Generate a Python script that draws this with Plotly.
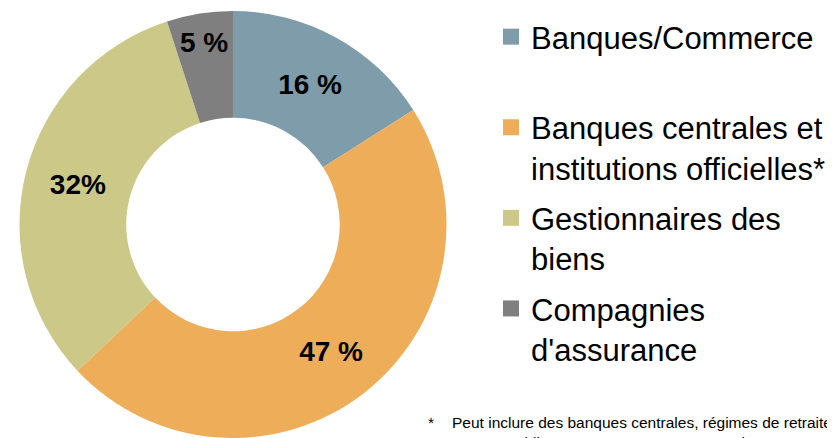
import plotly.graph_objects as go

categories = ["Banques/Commerce", "Banques centrales et<br>institutions officielles*",
              "Gestionnaires des<br>biens", "Compagnies<br>d'assurance"]
values = [16, 47, 32, 5]
value_labels = ["16 %", "47 %", "32%", "5 %"]
colors = ["#7F9CAB", "#EEAE59", "#CCC888", "#7F7F7F"]
footnote = ("Peut inclure des banques centrales, régimes de retraite du<br>"
            "secteur public et gouvernementaux, organismes et commissions")

# page body has an 8px margin: express reference pixel positions relative to the figure
OFF = 8
W, H = 835 - OFF, 438 - OFF
def fx(px):
    return (px - OFF) / W
def fy(py):
    return 1 - (py - OFF) / H

fig = go.Figure()
fig.add_trace(go.Pie(
    labels=categories,
    values=values,
    text=value_labels,
    textinfo="text",
    textposition="inside",
    insidetextorientation="horizontal",
    textfont=dict(family="Liberation Sans", size=28, color="black", weight="bold"),
    marker=dict(colors=colors, line=dict(width=0)),
    hole=0.5,
    sort=False,
    direction="clockwise",
    rotation=0,
    showlegend=False,
    hoverinfo="label+percent",
    domain=dict(x=[fx(19), fx(447)], y=[0, fy(11)]),
))

# legend entries (one per category)
for i, (cat, col) in enumerate(zip(categories, colors)):
    label = cat + "<br> " if i == 0 else cat
    fig.add_trace(go.Scatter(
        x=[None], y=[None], mode="markers", name=label,
        marker=dict(symbol="square", size=16, color=col),
        legendgroup=f"g{i}", showlegend=True, hoverinfo="skip",
    ))

fig.update_layout(
    width=W, height=H,
    margin=dict(l=0, r=0, t=0, b=0),
    paper_bgcolor="white",
    plot_bgcolor="white",
    font=dict(family="Liberation Sans", color="black"),
    xaxis=dict(visible=False),
    yaxis=dict(visible=False),
    legend=dict(x=fx(491), y=fy(10), xanchor="left", yanchor="top",
                valign="top",
                font=dict(size=31, color="black"), bgcolor="rgba(0,0,0,0)",
                tracegroupgap=7, itemclick=False, itemdoubleclick=False),
    showlegend=True,
)
fig.add_annotation(x=fx(426), y=fy(412), xref="paper", yref="paper",
                   text="*", showarrow=False, xanchor="left", yanchor="top",
                   font=dict(size=15.5, color="black"))
fig.add_annotation(x=fx(450), y=fy(412), xref="paper", yref="paper",
                   text=footnote, showarrow=False, xanchor="left", yanchor="top",
                   align="left", font=dict(size=15.5, color="black"))

fig.write_html("out.html")
